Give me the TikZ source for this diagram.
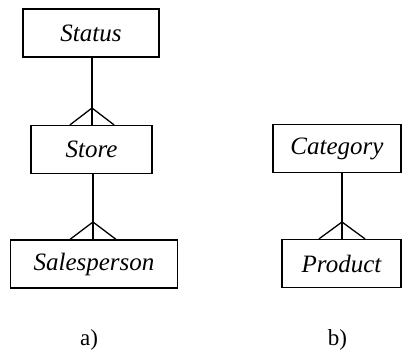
\documentclass[tikz,border=0pt]{standalone}
\usepackage{fontspec}
\setmainfont{Liberation Serif}
\usetikzlibrary{calc}

\tikzset{
  entity/.style={draw,line width=1.3pt,minimum height=48pt,inner sep=0pt,
    font=\fontsize{25}{29}\selectfont\itshape},
  rel/.style={line width=1.3pt},
  caption/.style={font=\fontsize{23}{27}\selectfont}
}

\begin{document}
\begin{tikzpicture}[x=1pt,y=-1pt]
        \useasboundingbox (0,0) rectangle (402,354);

        % a)
        \node[entity,minimum width=136pt] (status) at (91,33) {Status};
        \node[entity,minimum width=121pt] (store) at (91.5,149.5) {Store};
        \node[entity,minimum width=167pt] (salesperson) at (94,264) {Salesperson};

        \coordinate (ta) at (92,108);
        \coordinate (tb) at (93,222);

        % b)
        \node[entity,minimum width=128pt] (category) at (337,148.5) {Category};
        \node[entity,minimum width=119pt] (product) at (341.5,263.5) {Product};

        \coordinate (tc) at (342,222);

        % crow's feet
        \draw[rel] (ta |- status.south) -- (ta) -- (ta |- store.north);
        \draw[rel] ($(ta |- store.north)+(-22,0)$) -- (ta) -- ($(ta |- store.north)+(22,0)$);

        \draw[rel] (tb |- store.south) -- (tb) -- (tb |- salesperson.north);
        \draw[rel] ($(tb |- salesperson.north)+(-23,0)$) -- (tb) -- ($(tb |- salesperson.north)+(23,0)$);

        \draw[rel] (tc |- category.south) -- (tc) -- (tc |- product.north);
        \draw[rel] ($(tc |- product.north)+(-23,0)$) -- (tc) -- ($(tc |- product.north)+(23,0)$);

        \node[caption] (capa) at (89,340) {a)};
        \node[caption] (capb) at (337.5,340) {b)};
\end{tikzpicture}
\end{document}
